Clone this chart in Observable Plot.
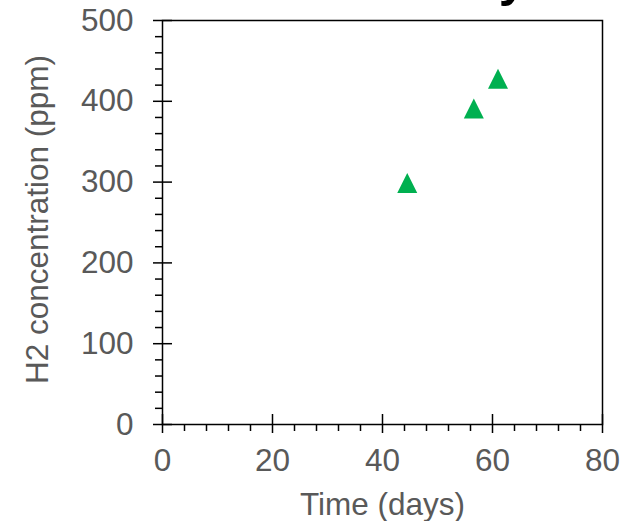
<!DOCTYPE html>
<html><head><meta charset="utf-8">
<script src="https://cdn.jsdelivr.net/npm/d3@7"></script>
<script src="https://cdn.jsdelivr.net/npm/@observablehq/plot@0.6"></script>
<style>
html,body{margin:0;padding:0;background:#fff;}
#chart svg{display:block;}
</style></head><body><div id="chart"></div>
<script>
const days = [44.5, 56.6, 61.0];
const h2ppm = [299, 391, 428];
const xTicks = [0, 20, 40, 60, 80];
const yTicks = [0, 100, 200, 300, 400, 500];
const xMinor = [4, 8, 12, 16, 24, 28, 32, 36, 44, 48, 52, 56, 64, 68, 72, 76];
const yMinor = [20, 40, 60, 80, 120, 140, 160, 180, 220, 240, 260, 280, 320, 340, 360, 380, 420, 440, 460, 480];
const xTitle = "Time (days)";
const yTitle = "H2 concentration (ppm)";
const titleTail = "y";

const data = days.map((d, i) => ({day: d, ppm: h2ppm[i]}));

// Excel-style triangle marker (bounding box centred on the point)
const tri = {draw(ctx, size) {
  const r = Math.sqrt(size / Math.PI);
  ctx.moveTo(0, -r); ctx.lineTo(r, r); ctx.lineTo(-r, r); ctx.closePath();
}};

const font = "'Liberation Sans', Arial, sans-serif";
const gray = "#595959";
const fs = 31.5;
const axisStyle = {stroke: "#000", strokeWidth: 1.5, fill: "none", label: null};

const chart = Plot.plot({
  width: 628, height: 521,
  marginLeft: 162, marginRight: 26, marginTop: 20, marginBottom: 97,
  style: {fontFamily: font, background: "#fff", overflow: "visible"},
  x: {domain: [0, 80]},
  y: {domain: [0, 500]},
  marks: [
    Plot.frame({stroke: "#000", strokeWidth: 1.5}),
    Plot.axisY({ticks: yMinor, tickSize: 7, ...axisStyle}),
    Plot.axisY({ticks: yTicks, tickSize: 19, dx: 10, ...axisStyle}),
    Plot.axisY({ticks: yTicks, tickSize: 0, tickPadding: 29, fontSize: fs, fill: gray, label: null}),
    Plot.axisX({ticks: xMinor, tickSize: 7, ...axisStyle}),
    Plot.axisX({ticks: xTicks, tickSize: 19, dy: -10, ...axisStyle}),
    Plot.axisX({ticks: xTicks, tickSize: 0, tickPadding: 24, fontSize: fs, fill: gray, label: null}),
    Plot.text([yTitle], {frameAnchor: "left", rotate: -90, dx: -137, dy: -3, lineAnchor: "top", textAnchor: "middle", fontSize: fs, fill: gray}),
    Plot.text([xTitle], {frameAnchor: "bottom", dy: 90, lineAnchor: "bottom", fontSize: fs, fill: gray}),
    Plot.text([titleTail], {frameAnchor: "top-right", textAnchor: "end", lineAnchor: "bottom", dx: -76, dy: -25, fontSize: 50, fontWeight: "bold", fill: "#000"}),
    Plot.dot(data, {x: "day", y: "ppm", symbol: tri, r: 10, fill: "#00B050", stroke: "none"})
  ]
});
document.getElementById("chart").appendChild(chart);
</script>
</body></html>
